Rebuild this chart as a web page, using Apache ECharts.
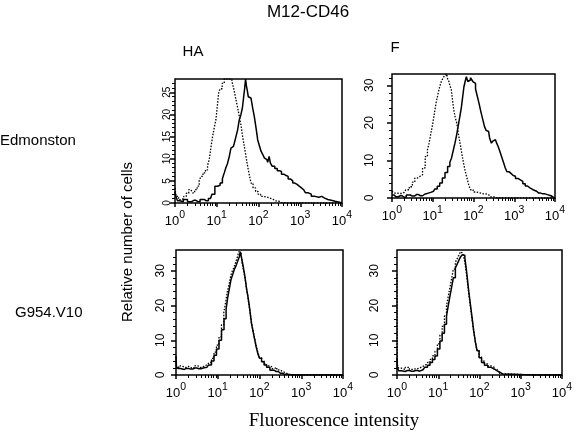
<!DOCTYPE html>
<html><head><meta charset="utf-8">
<script src="https://cdn.jsdelivr.net/npm/echarts@6/dist/echarts.min.js"></script>
<style>html,body{margin:0;padding:0;background:#fff}#c{width:582px;height:433px}</style>
</head><body><div id="c"></div>
<script>
// x positions are in decades (log10 of fluorescence intensity)
const decadePositions = [0, 1, 2, 3, 4];
const decadeExps = ['0', '1', '2', '3', '4'];
const minorMultipliers = [2, 3, 4, 5, 6, 7, 8, 9];

const title = 'M12-CD46';
const columnLabels = ['HA', 'F'];
const rowLabels = ['Edmonston', 'G954.V10'];
const yAxisTitle = 'Relative number of cells';
const xAxisTitle = 'Fluorescence intensity';

// HA / Edmonston
const haEdmSolid = [[0,2.5],[0.04,1.5],[0.08,0.5],[0.15,0.3],[0.25,0.8],[0.35,0.3],[0.45,0.6],[0.55,0.3],[0.65,0.8],[0.75,0.5],[0.85,1.0],[0.92,2.0],[0.99,3.8],[1.05,4.0],[1.11,4.5],[1.16,5.5],[1.2,6.8],[1.24,8.0],[1.28,9.0],[1.32,10.5],[1.36,12.4],[1.4,12.8],[1.44,13.5],[1.48,15.0],[1.52,16.5],[1.56,18.8],[1.6,20.0],[1.63,21.5],[1.66,24.0],[1.68,26.0],[1.7,28],[1.72,26.5],[1.74,25.5],[1.77,24.0],[1.8,23.7],[1.84,23.3],[1.88,21.5],[1.92,19.5],[1.96,17.0],[2.0,14.3],[2.04,13.0],[2.08,11.7],[2.12,11.0],[2.16,10.2],[2.2,9.8],[2.24,9.2],[2.27,10.5],[2.3,9.0],[2.36,8.3],[2.42,7.8],[2.48,7.3],[2.52,7.1],[2.58,6.5],[2.64,6.2],[2.68,6.0],[2.74,5.4],[2.8,5.0],[2.84,4.5],[2.9,4.2],[2.95,3.8],[3.0,3.4],[3.06,3.0],[3.1,2.6],[3.15,2.3],[3.22,2.0],[3.31,1.5],[3.4,1.3],[3.48,1.5],[3.55,1.1],[3.62,0.8],[3.7,0.6],[3.79,0.4],[3.88,0.2],[4.0,0]];
const haEdmDotted = [[0,3.4],[0.05,1.5],[0.12,0.75],[0.18,1.0],[0.24,1.5],[0.3,2.2],[0.36,3.0],[0.4,2.6],[0.44,2.3],[0.5,3.0],[0.56,3.8],[0.6,5.0],[0.64,6.0],[0.7,6.8],[0.76,7.5],[0.8,8.5],[0.84,9.8],[0.88,12.5],[0.92,15.0],[0.96,17.0],[1.0,18.8],[1.03,22.0],[1.06,24.8],[1.1,25.8],[1.16,27.0],[1.2,28],[1.36,28],[1.38,27.2],[1.41,26.3],[1.44,25.0],[1.48,23.3],[1.51,21.8],[1.54,20.3],[1.57,18.8],[1.6,17.3],[1.64,15.0],[1.68,12.8],[1.72,10.5],[1.76,8.3],[1.8,6.3],[1.84,4.5],[1.9,3.4],[1.96,2.6],[2.02,2.0],[2.08,1.5],[2.16,1.3],[2.27,1.1],[2.35,0.8],[2.44,0.4],[2.55,0.1],[2.7,0],[4.0,0]];

// F / Edmonston
const fEdmSolid = [[0,0.8],[0.1,0.3],[0.2,0.6],[0.3,0.2],[0.4,0.8],[0.5,0.5],[0.6,0.9],[0.7,0.6],[0.8,1.0],[0.89,1.3],[0.95,1.5],[1.02,1.8],[1.08,2.4],[1.14,3.1],[1.2,4.0],[1.27,5.3],[1.33,6.8],[1.4,8.4],[1.44,9.5],[1.48,10.6],[1.52,12.5],[1.57,14.6],[1.61,17.0],[1.65,19.5],[1.69,22.0],[1.72,24.3],[1.75,27.0],[1.78,29.6],[1.81,31.0],[1.84,32.3],[1.88,31.0],[1.91,31.4],[1.94,32.0],[1.97,31.9],[2.0,31.0],[2.03,30.5],[2.07,29.0],[2.12,27.0],[2.16,25.0],[2.2,23.0],[2.25,21.0],[2.29,19.0],[2.33,18.0],[2.37,17.7],[2.42,16.0],[2.46,14.6],[2.5,15.2],[2.54,15.5],[2.58,14.8],[2.63,13.7],[2.67,12.3],[2.71,11.0],[2.76,9.5],[2.8,8.0],[2.84,7.0],[2.9,6.5],[2.95,6.0],[3.0,5.8],[3.06,5.2],[3.12,4.8],[3.18,4.4],[3.24,3.8],[3.3,3.2],[3.35,2.7],[3.42,2.2],[3.5,1.8],[3.6,1.3],[3.7,1.1],[3.81,0.9],[3.9,0.6],[3.96,0.2],[4.0,0]];
const fEdmDotted = [[0,1.8],[0.05,1.3],[0.13,1.3],[0.2,1.2],[0.3,1.5],[0.38,2.2],[0.47,3.0],[0.53,4.2],[0.59,5.3],[0.66,5.8],[0.72,6.2],[0.78,8.0],[0.85,11.0],[0.89,12.8],[0.93,14.6],[0.97,17.0],[1.02,19.5],[1.06,22.5],[1.1,25.2],[1.15,27.5],[1.19,29.6],[1.23,31.0],[1.27,31.9],[1.3,32.5],[1.33,33],[1.37,32.0],[1.4,31.4],[1.44,30.0],[1.47,28.8],[1.5,26.0],[1.53,23.5],[1.57,21.5],[1.61,19.9],[1.65,17.0],[1.69,14.6],[1.73,12.0],[1.78,9.3],[1.82,7.0],[1.86,5.3],[1.9,3.6],[1.95,2.2],[2.03,1.6],[2.12,1.3],[2.25,1.1],[2.37,0.9],[2.45,0.3],[2.55,0],[4.0,0]];

// HA / G954.V10
const haG954Solid = [[0,5.5],[0.02,2.5],[0.06,1.9],[0.15,1.6],[0.25,1.9],[0.35,1.7],[0.45,2.0],[0.55,1.8],[0.65,2.0],[0.74,2.2],[0.82,2.9],[0.88,4.0],[0.94,5.7],[1.0,7.5],[1.06,10.0],[1.12,13.0],[1.18,16.2],[1.22,19.0],[1.26,22.4],[1.3,25.0],[1.34,27.6],[1.38,29.0],[1.42,30.5],[1.46,31.5],[1.5,32.9],[1.53,34.0],[1.55,35.5],[1.58,34.0],[1.62,31.9],[1.65,29.5],[1.68,27.1],[1.71,24.5],[1.74,22.4],[1.77,20.0],[1.79,17.6],[1.82,15.0],[1.86,12.9],[1.9,10.5],[1.94,8.1],[1.98,6.2],[2.02,4.8],[2.08,3.8],[2.14,2.9],[2.2,2.2],[2.3,1.4],[2.4,1.0],[2.5,0.5],[2.6,0.2],[2.75,0],[4.0,0]];
const haG954Dotted = [[0,4.0],[0.03,2.0],[0.1,2.6],[0.2,2.2],[0.3,2.5],[0.38,2.0],[0.48,2.6],[0.58,2.2],[0.68,2.6],[0.76,3.0],[0.82,3.6],[0.88,4.8],[0.94,6.6],[1.0,8.6],[1.06,11.0],[1.12,14.5],[1.17,18.0],[1.21,21.0],[1.25,24.0],[1.29,26.0],[1.33,28.5],[1.37,30.0],[1.41,31.0],[1.45,32.5],[1.49,34.0],[1.52,35.5],[1.56,35.0],[1.6,32.5],[1.64,30.0],[1.67,28.0],[1.7,25.0],[1.73,23.0],[1.76,20.5],[1.79,18.0],[1.82,15.5],[1.86,13.0],[1.9,10.8],[1.94,8.5],[1.98,6.5],[2.02,5.0],[2.08,4.0],[2.14,3.2],[2.2,2.6],[2.26,2.4],[2.32,1.8],[2.38,2.2],[2.45,1.5],[2.52,1.0],[2.6,0.5],[2.7,0.2],[2.8,0],[4.0,0]];

// F / G954.V10
const fG954Solid = [[0,5],[0.02,2.0],[0.06,1.2],[0.15,1.0],[0.25,1.3],[0.35,1.1],[0.45,1.3],[0.55,1.1],[0.63,1.5],[0.71,2.2],[0.77,2.8],[0.83,3.6],[0.89,4.5],[0.95,5.5],[1.01,7.5],[1.07,9.8],[1.12,12.0],[1.18,14.6],[1.22,17.0],[1.26,19.8],[1.3,22.5],[1.34,25.0],[1.39,28.0],[1.44,30.8],[1.48,32.0],[1.52,33.0],[1.56,34.0],[1.6,34.6],[1.63,34.5],[1.66,33.6],[1.69,31.0],[1.72,27.9],[1.76,24.0],[1.8,20.3],[1.84,16.5],[1.88,12.7],[1.92,9.5],[1.96,7.0],[2.02,5.0],[2.08,3.6],[2.16,2.8],[2.24,2.2],[2.32,1.7],[2.4,1.2],[2.46,0.8],[2.52,0.3],[2.6,0],[4.0,0]];
const fG954Dotted = [[0,29],[0.02,3.0],[0.06,2.0],[0.15,1.6],[0.25,2.2],[0.35,1.6],[0.45,1.8],[0.55,2.0],[0.63,2.5],[0.71,3.0],[0.77,3.6],[0.83,4.5],[0.89,5.5],[0.95,6.8],[1.01,9.0],[1.07,11.5],[1.12,14.0],[1.18,17.0],[1.22,20.0],[1.26,22.5],[1.3,25.0],[1.34,27.5],[1.39,30.5],[1.44,32.5],[1.48,33.5],[1.52,34.5],[1.56,35.5],[1.6,35.0],[1.63,34.0],[1.66,32.5],[1.69,30.0],[1.72,27.0],[1.76,23.5],[1.8,19.5],[1.84,16.0],[1.88,12.5],[1.92,9.5],[1.96,7.2],[2.02,5.2],[2.08,4.0],[2.16,3.2],[2.24,2.6],[2.32,2.2],[2.4,1.6],[2.46,1.0],[2.52,0.4],[2.6,0],[4.0,0]];

const yTicksTL = [0, 5, 10, 15, 20, 25];
const yMinorTL = [1,2,3,4,6,7,8,9,11,12,13,14,16,17,18,19,21,22,23,24,26,27];
const yTicksTen = [0, 10, 20, 30];
const yMinorTen = [2,4,6,8,12,14,16,18,22,24,26,28,32,34];

const panels = [
  {grid:{left:175, top:79, width:167, height:124}, yMax:28, yMajor:yTicksTL, yMinor:yMinorTL, lblSize:10, lblMargin:3, solid:haEdmSolid, dotted:haEdmDotted},
  {grid:{left:392, top:74, width:163, height:124}, yMax:33, yMajor:yTicksTen, yMinor:yMinorTen, lblSize:12, lblMargin:16, solid:fEdmSolid, dotted:fEdmDotted},
  {grid:{left:176, top:250, width:167, height:125}, yMax:36, yMajor:yTicksTen, yMinor:yMinorTen, lblSize:12, lblMargin:9, solid:haG954Solid, dotted:haG954Dotted},
  {grid:{left:397, top:250, width:165, height:125}, yMax:36, yMajor:yTicksTen, yMinor:yMinorTen, lblSize:12, lblMargin:16, solid:fG954Solid, dotted:fG954Dotted}
];

const minorPositions = [];
for (let k = 0; k < 4; k++) minorMultipliers.forEach(m => minorPositions.push(k + Math.log10(m)));

const FONT = 'Liberation Sans';
const grids = [], xAxes = [], yAxes = [], series = [];
panels.forEach((p, i) => {
  grids.push(Object.assign({show:true, borderColor:'#000', borderWidth:1.5, containLabel:false}, p.grid));
  xAxes.push({
    type:'value', gridIndex:i, min:0, max:4, position:'bottom',
    axisLine:{show:false}, splitLine:{show:false},
    axisTick:{show:true, inside:false, length:4, customValues:decadePositions, lineStyle:{color:'#000', width:1.5}},
    axisLabel:{customValues:decadePositions, margin:7,
      formatter: v => '{b|10}{s|' + decadeExps[Math.round(v)] + '}',
      rich:{
        b:{fontSize:13, fontFamily:FONT, color:'#000', lineHeight:18, verticalAlign:'bottom'},
        s:{fontSize:10.5, fontFamily:FONT, color:'#000', lineHeight:18, verticalAlign:'top'}
      }}
  });
  xAxes.push({
    type:'value', gridIndex:i, min:0, max:4, position:'bottom',
    axisLine:{show:false}, splitLine:{show:false}, axisLabel:{show:false},
    axisTick:{show:true, inside:false, length:3, customValues:minorPositions, lineStyle:{color:'#000', width:1}}
  });
  yAxes.push({
    type:'value', gridIndex:i, min:0, max:p.yMax, position:'left',
    axisLine:{show:false}, splitLine:{show:false},
    axisTick:{show:true, inside:false, length:5, customValues:p.yMajor, lineStyle:{color:'#000', width:1.5}},
    axisLabel:{customValues:p.yMajor, rotate:90, margin:p.lblMargin, fontSize:p.lblSize, fontFamily:FONT, color:'#000'}
  });
  yAxes.push({
    type:'value', gridIndex:i, min:0, max:p.yMax, position:'left',
    axisLine:{show:false}, splitLine:{show:false}, axisLabel:{show:false},
    axisTick:{show:true, inside:false, length:3, customValues:p.yMinor, lineStyle:{color:'#000', width:1}}
  });
  series.push({type:'line', xAxisIndex:2*i, yAxisIndex:2*i, data:p.dotted, step:'middle', symbol:'none',
    lineStyle:{color:'#000', width:1.3, type:[1.5,1.5]}, z:2});
  series.push({type:'line', xAxisIndex:2*i, yAxisIndex:2*i, data:p.solid, step:'middle', symbol:'none',
    lineStyle:{color:'#000', width:1.5, type:'solid'}, z:3});
});

function txt(text, x, y, font, align, rot) {
  return {type:'text', x:x, y:y, rotation:rot || 0, z:10,
    style:{text:text, font:font, fill:'#000', align:align, textAlign:align, verticalAlign:'middle', textVerticalAlign:'middle'}};
}

const chart = echarts.init(document.getElementById('c'), null, {renderer:'canvas'});
chart.setOption({
  animation:false,
  backgroundColor:'#fff',
  grid:grids, xAxis:xAxes, yAxis:yAxes, series:series,
  graphic:[
    txt(title, 308, 12, '17px "Liberation Sans"', 'center'),
    txt(columnLabels[0], 193, 52, '15px "Liberation Sans"', 'center'),
    txt(columnLabels[1], 395, 48, '15px "Liberation Sans"', 'center'),
    txt(rowLabels[0], 0, 141, '15px "Liberation Sans"', 'left'),
    txt(rowLabels[1], 15, 313, '15px "Liberation Sans"', 'left'),
    txt(yAxisTitle, 128, 242, '15px "Liberation Sans"', 'center', Math.PI/2),
    txt(xAxisTitle, 334, 421, '19px "Liberation Serif"', 'center')
  ]
});
</script></body></html>
